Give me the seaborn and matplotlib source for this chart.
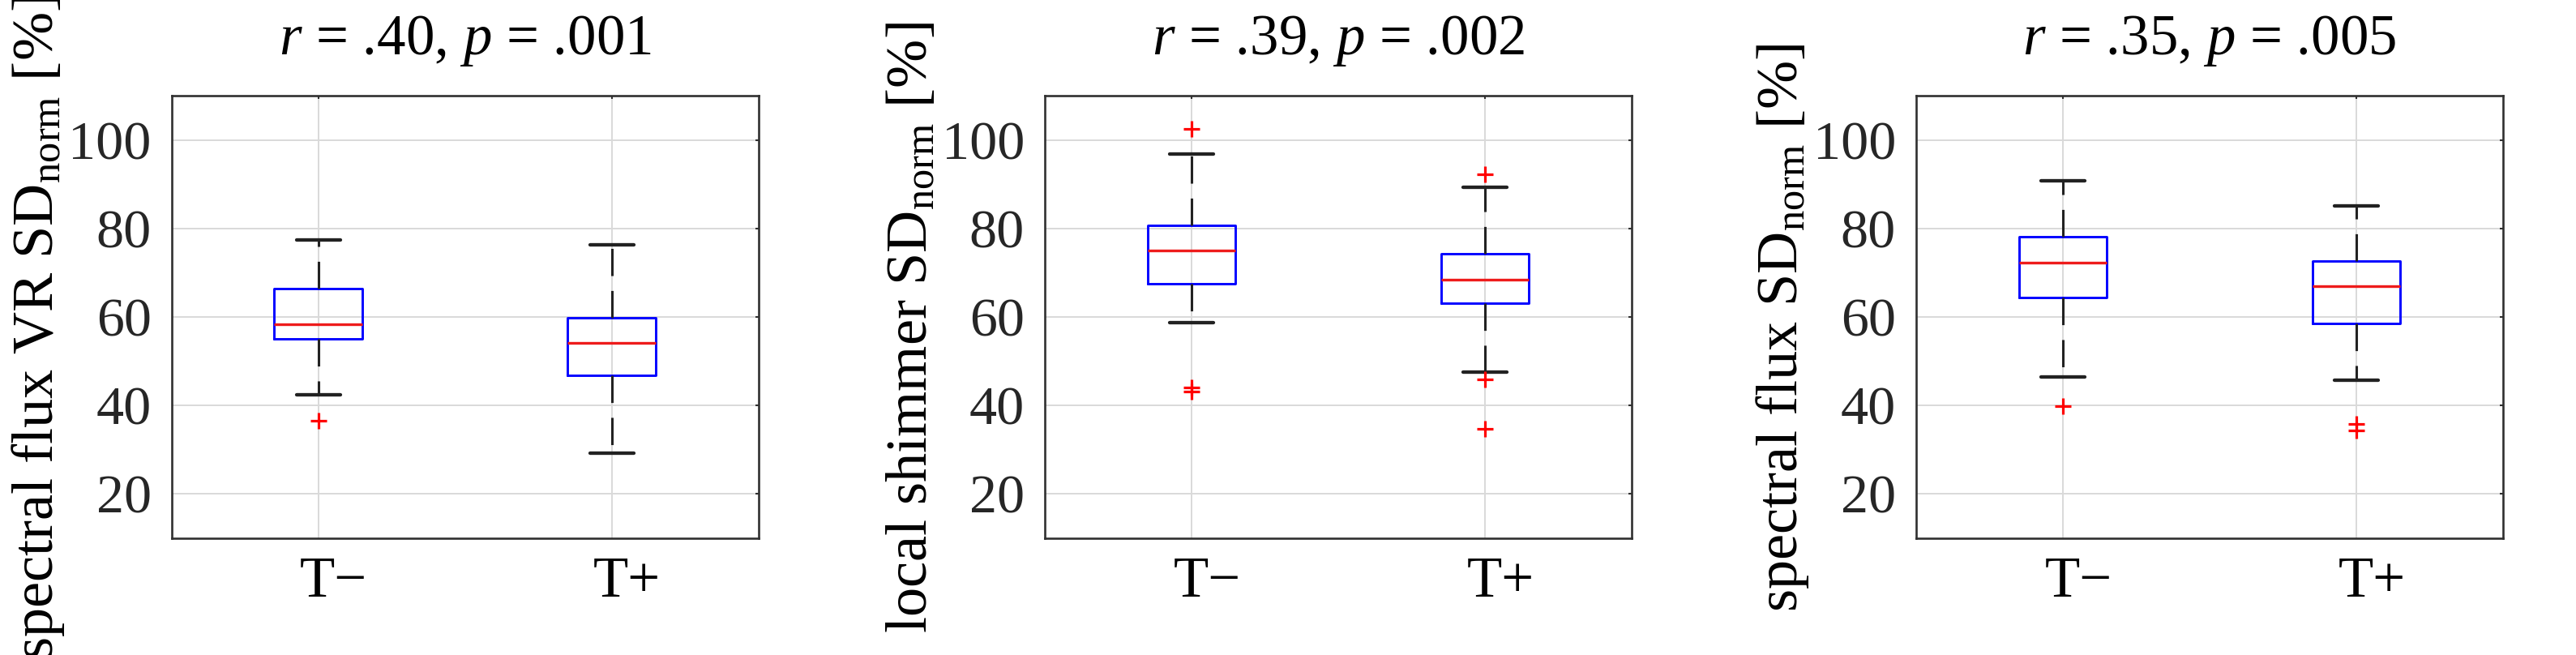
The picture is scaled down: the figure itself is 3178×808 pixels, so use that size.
import numpy as np
import pandas as pd
import matplotlib
matplotlib.use("Agg")
import matplotlib.pyplot as plt
import matplotlib.transforms as mtransforms
import seaborn as sns

# ---- data ----
groups = ["T\u2212", "T+"]
titles = ["$r$ = .40, $p$ = .001", "$r$ = .39, $p$ = .002", "$r$ = .35, $p$ = .005"]
ylabels = ["spectral flux VR SD$_{\\mathrm{norm}}$ [%]",
           "local shimmer SD$_{\\mathrm{norm}}$ [%]",
           "spectral flux SD$_{\\mathrm{norm}}$ [%]"]
yticks = [20, 40, 60, 80, 100]

# per panel: [T-, T+]
whisker_low = [[42.5, 29.2], [58.7, 47.5], [46.5, 45.8]]
q1 = [[55.1, 46.9], [67.5, 63.1], [64.4, 58.6]]
median = [[58.3, 54.2], [75.1, 68.5], [72.3, 67.0]]
q3 = [[66.4, 59.8], [80.7, 74.3], [78.2, 72.7]]
whisker_high = [[77.5, 76.3], [96.9, 89.3], [90.8, 85.1]]
outliers = [[[36.6], []],
            [[102.5, 44.1, 43.1], [92.2, 45.9, 34.7]],
            [[39.9], [35.8, 34.4]]]


def build_sample(lo, a, m, b, hi, outs):
    # sample whose quartiles/whiskers/outliers reproduce the read statistics
    return list(outs) + [lo] + [a] * 20 + [m] * 20 + [b] * 20 + [hi]


sns.set_style("white")
plt.rcParams["font.family"] = ["Liberation Serif", "DejaVu Serif"]
plt.rcParams["mathtext.fontset"] = "custom"
plt.rcParams["mathtext.rm"] = "Liberation Serif"
plt.rcParams["mathtext.it"] = "Liberation Serif:italic"
plt.rcParams["mathtext.bf"] = "Liberation Serif:bold"

W, H = 3178, 808
fig = plt.figure(figsize=(W / 100, H / 100), dpi=100)

ax_left_px = [211.7, 1289.0, 2364.0]
ax_w_px = 724.0
ax_top_px, ax_bot_px = 118.3, 664.0
label_center_y = (ax_bot_px - 404.0) / (ax_bot_px - ax_top_px)

for i in range(3):
    rows = []
    for j, g in enumerate(groups):
        vals = build_sample(whisker_low[i][j], q1[i][j], median[i][j],
                            q3[i][j], whisker_high[i][j], outliers[i][j])
        rows += [(g, v) for v in vals]
    df = pd.DataFrame(rows, columns=["group", "value"])

    ax = fig.add_axes([ax_left_px[i] / W, 1 - ax_bot_px / H,
                       ax_w_px / W, (ax_bot_px - ax_top_px) / H])
    sns.boxplot(data=df, x="group", y="value", order=groups, ax=ax,
                width=0.3, fill=False, whis=1.5,
                boxprops=dict(color="#0000ff", linewidth=2.1),
                medianprops=dict(color="#ee1c1c", linewidth=2.4),
                whiskerprops=dict(color="#222222", linewidth=2.2,
                                  linestyle=(0, (11, 6))),
                capprops=dict(color="#222222", linewidth=3.1),
                flierprops=dict(marker="+", markeredgecolor="#ff0000",
                                markersize=14, markeredgewidth=2.3))
    ax.set_xlim(-0.5, 1.5)
    ax.set_ylim(10, 110)
    ax.set_yticks(yticks)
    ax.set_xticks([0, 1])
    ax.set_xticklabels(groups)
    ax.grid(True, color="#d9d9d9", linewidth=1.4)
    ax.set_axisbelow(True)
    for s in ax.spines.values():
        s.set_color("#303030")
        s.set_linewidth(1.9)
        s.set_visible(True)
    ax.tick_params(axis="both", direction="in", length=3, width=1.5,
                   color="#303030", top=True, right=True)
    ax.tick_params(axis="y", labelsize=49, pad=18, labelcolor="#262626")
    ax.tick_params(axis="x", labelsize=51, pad=16, labelcolor="#000000")
    shift = mtransforms.ScaledTranslation(19 / 100, 0, fig.dpi_scale_trans)
    for t in ax.xaxis.get_major_ticks():
        t.label1.set_transform(t.label1.get_transform() + shift)
    ax.set_xlabel("")
    ax.set_ylabel(ylabels[i], fontsize=52, labelpad=2, color="black")
    ax.yaxis.label.set_y(label_center_y)
    ax.set_title(titles[i], fontsize=51, pad=37, color="black")

fig.savefig("out.png", dpi=100)
